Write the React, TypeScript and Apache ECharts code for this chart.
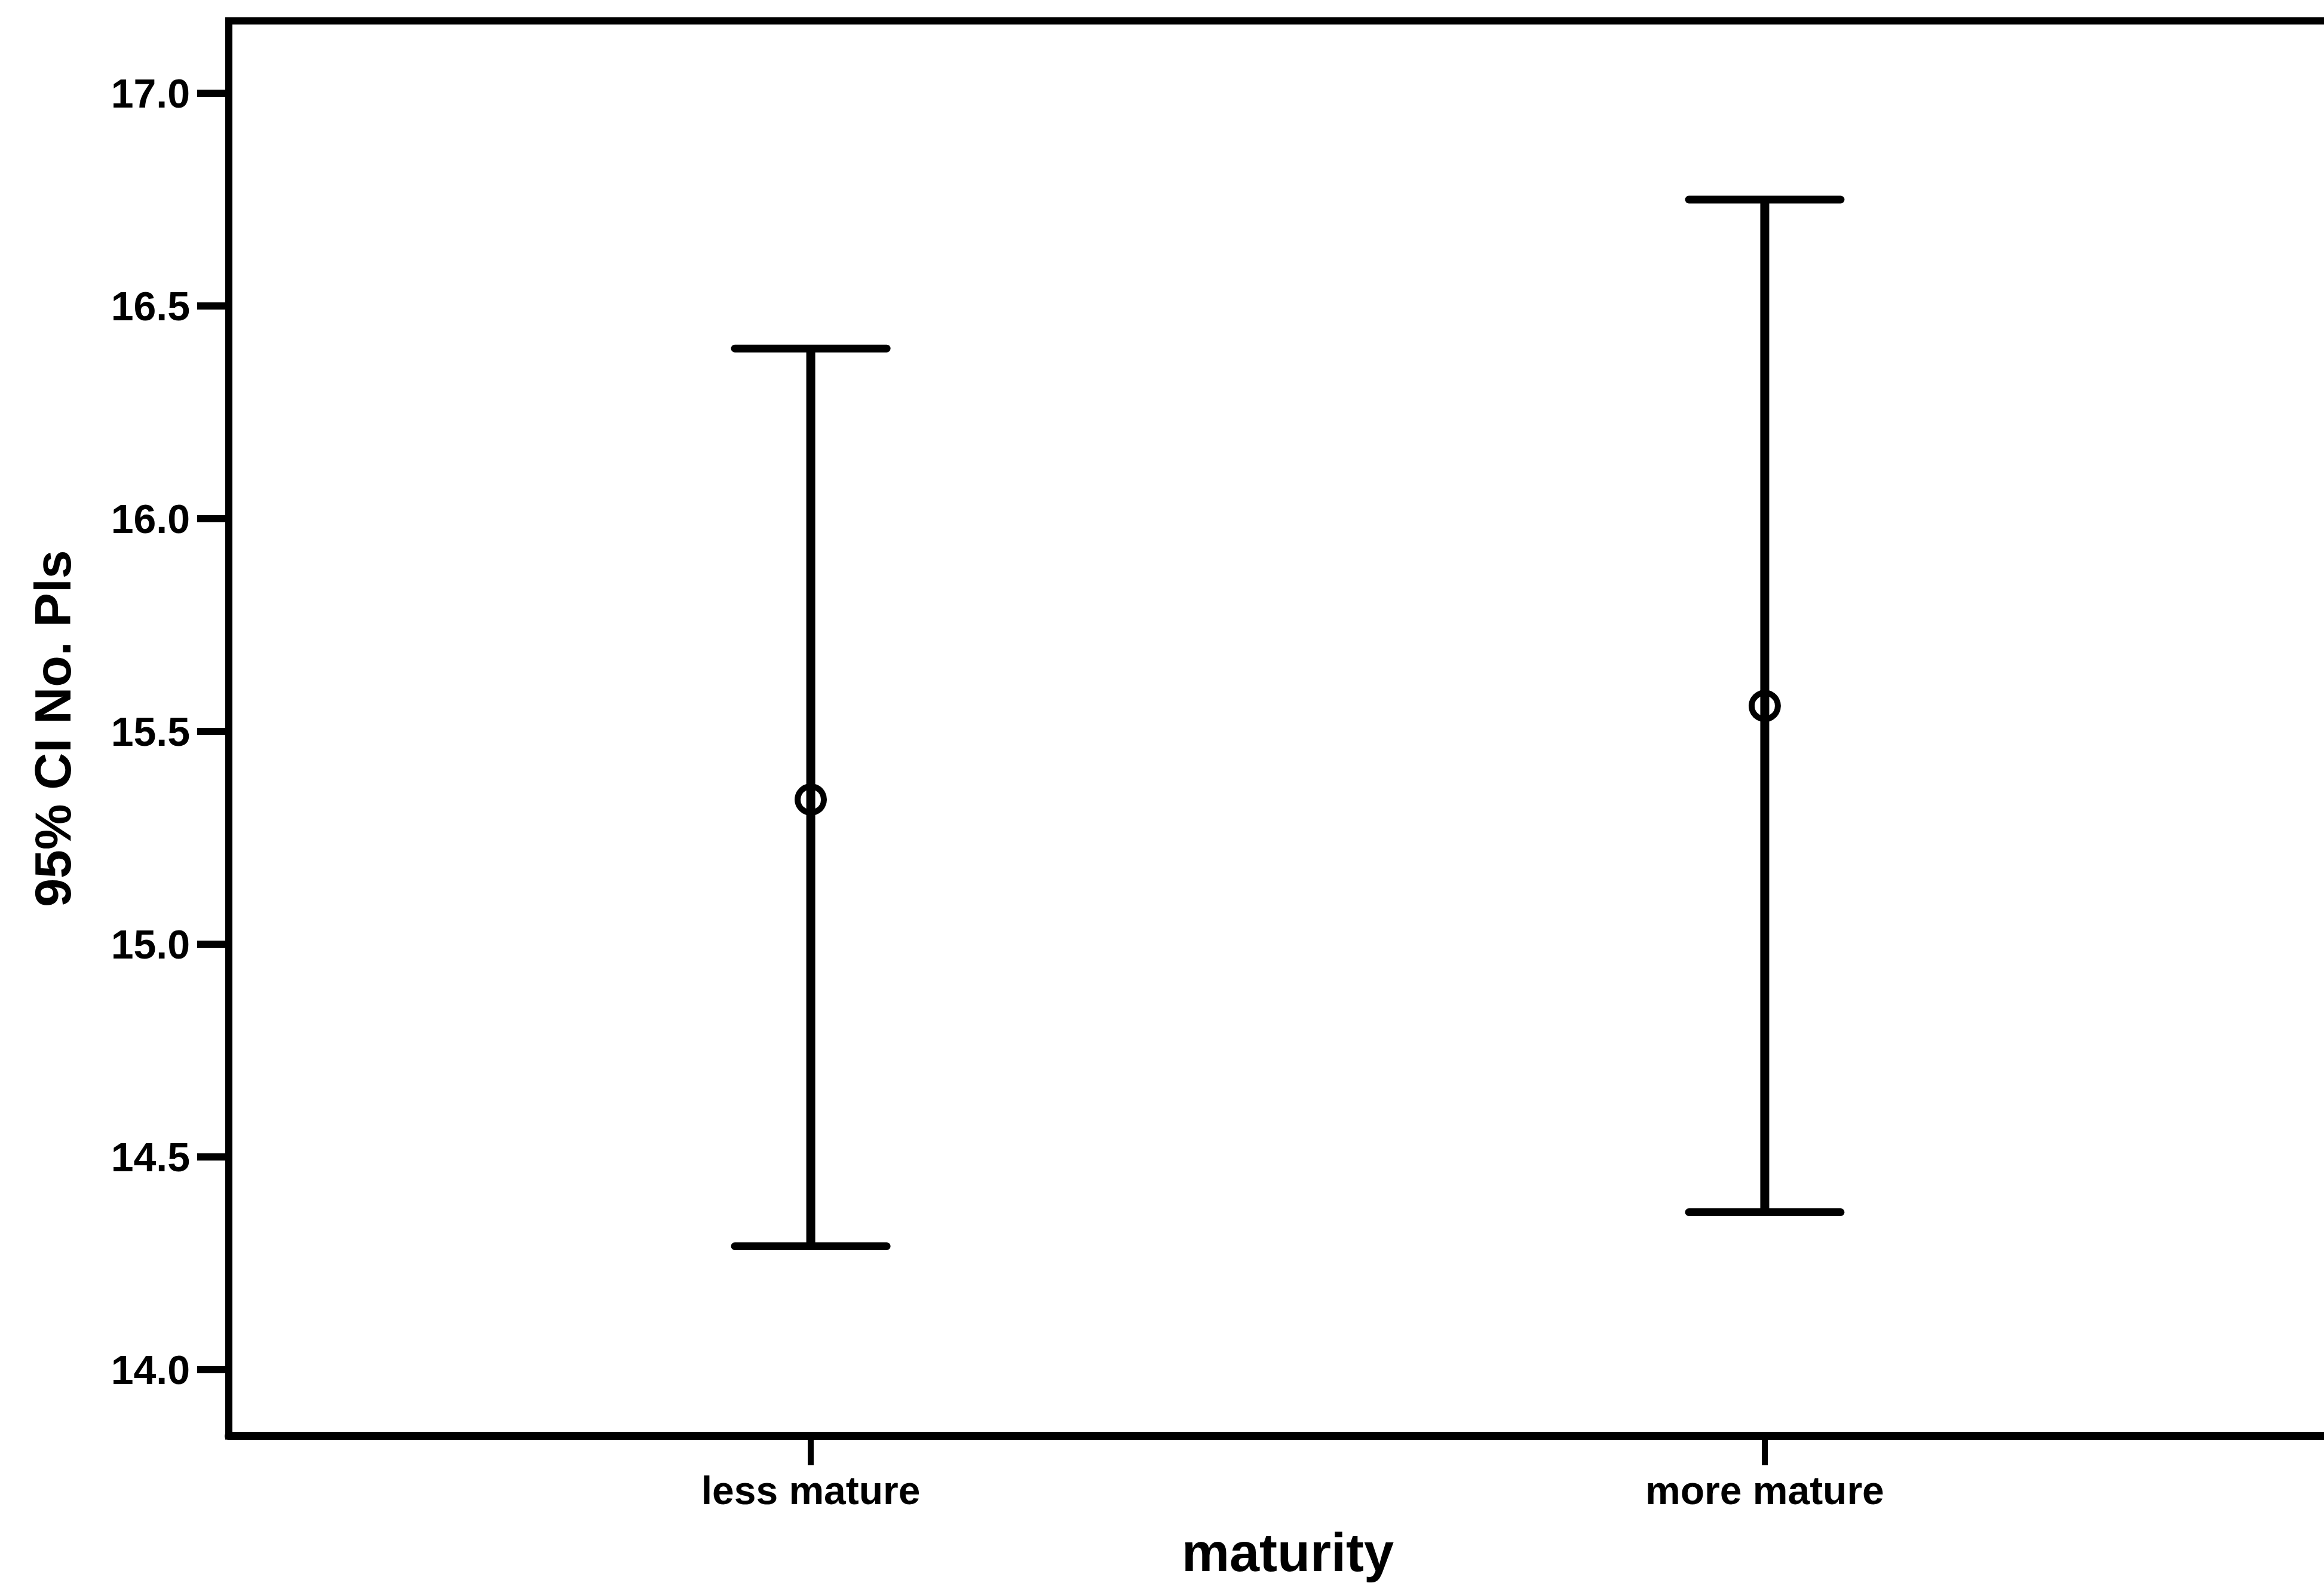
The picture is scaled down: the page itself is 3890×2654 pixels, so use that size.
import React, { useEffect, useRef } from "react";
import * as echarts from "echarts";

const categories = ["less mature", "more mature"];
const means = [15.34, 15.56];
const lowerCI = [14.29, 14.37];
const upperCI = [16.4, 16.75];
const yTicks = [14.0, 14.5, 15.0, 15.5, 16.0, 16.5, 17.0];
const xTicks = categories.map((_, i) => i + 1);

const FONT = "'Liberation Sans', Arial, sans-serif";

export default function App() {
  const ref = useRef<HTMLDivElement>(null);
  useEffect(() => {
    if (!ref.current) return;
    const chart = echarts.init(ref.current, null, { renderer: "svg" });
    const option: any = {
      animation: false,
      backgroundColor: "#fff",
      grid: {
        left: 383,
        top: 35,
        right: -38,
        bottom: 251,
        show: true,
        borderColor: "#000",
        borderWidth: 12,
        containLabel: false,
        outerBoundsMode: "none",
      },
      xAxis: {
        type: "value",
        min: 0.39,
        max: 2.61,
        name: "maturity",
        nameLocation: "middle",
        nameGap: 150,
        nameTextStyle: {
          fontFamily: FONT,
          fontWeight: "bold",
          fontSize: 90,
          lineHeight: 90,
          color: "#000",
        },
        axisLine: { show: true, lineStyle: { color: "#000", width: 14 } },
        axisTick: {
          show: true,
          customValues: xTicks,
          length: 49,
          lineStyle: { color: "#000", width: 10 },
        },
        axisLabel: {
          show: true,
          customValues: xTicks,
          margin: 58,
          fontFamily: FONT,
          fontWeight: "bold",
          fontSize: 66,
          color: "#000",
          formatter: (v: number) => categories[Math.round(v) - 1] ?? "",
        },
        splitLine: { show: false },
      },
      yAxis: {
        type: "value",
        min: 13.844,
        max: 17.17,
        name: "95% CI No. Pls",
        nameLocation: "middle",
        nameRotate: 90,
        nameGap: 252,
        nameTextStyle: { fontFamily: FONT, fontWeight: "bold", fontSize: 86, color: "#000" },
        axisLine: { show: true, lineStyle: { color: "#000", width: 11 } },
        axisTick: {
          show: true,
          customValues: yTicks,
          length: 53,
          lineStyle: { color: "#000", width: 12 },
        },
        axisLabel: {
          show: true,
          customValues: yTicks,
          margin: 65,
          fontFamily: FONT,
          fontWeight: "bold",
          fontSize: 68,
          color: "#000",
          formatter: (v: number) => v.toFixed(1),
        },
        splitLine: { show: false },
      },
      series: [
        {
          type: "custom",
          data: xTicks.map((x, i) => [x, lowerCI[i], upperCI[i]]),
          encode: { x: 0, y: [1, 2] },
          renderItem: (params: any, api: any) => {
            const x = api.value(0);
            const lo = api.coord([x, api.value(1)]);
            const hi = api.coord([x, api.value(2)]);
            const half = 127;
            const style = { stroke: "#000", lineWidth: 13, lineCap: "round" };
            return {
              type: "group",
              children: [
                {
                  type: "line",
                  shape: { x1: lo[0], y1: lo[1], x2: hi[0], y2: hi[1] },
                  style: { stroke: "#000", lineWidth: 15 },
                },
                {
                  type: "line",
                  shape: { x1: hi[0] - half, y1: hi[1], x2: hi[0] + half, y2: hi[1] },
                  style,
                },
                {
                  type: "line",
                  shape: { x1: lo[0] - half, y1: lo[1], x2: lo[0] + half, y2: lo[1] },
                  style,
                },
              ],
            };
          },
          z: 2,
        },
        {
          type: "scatter",
          data: xTicks.map((x, i) => [x, means[i]]),
          symbol: "circle",
          symbolSize: 44,
          itemStyle: { color: "rgba(0,0,0,0)", borderColor: "#000", borderWidth: 10, opacity: 1 },
          z: 3,
        },
      ],
    };
    chart.setOption(option);
    return () => chart.dispose();
  }, []);
  return (
    <div
      ref={ref}
      style={{ position: "fixed", left: 0, top: 0, width: 3890, height: 2654, background: "#fff" }}
    />
  );
}
